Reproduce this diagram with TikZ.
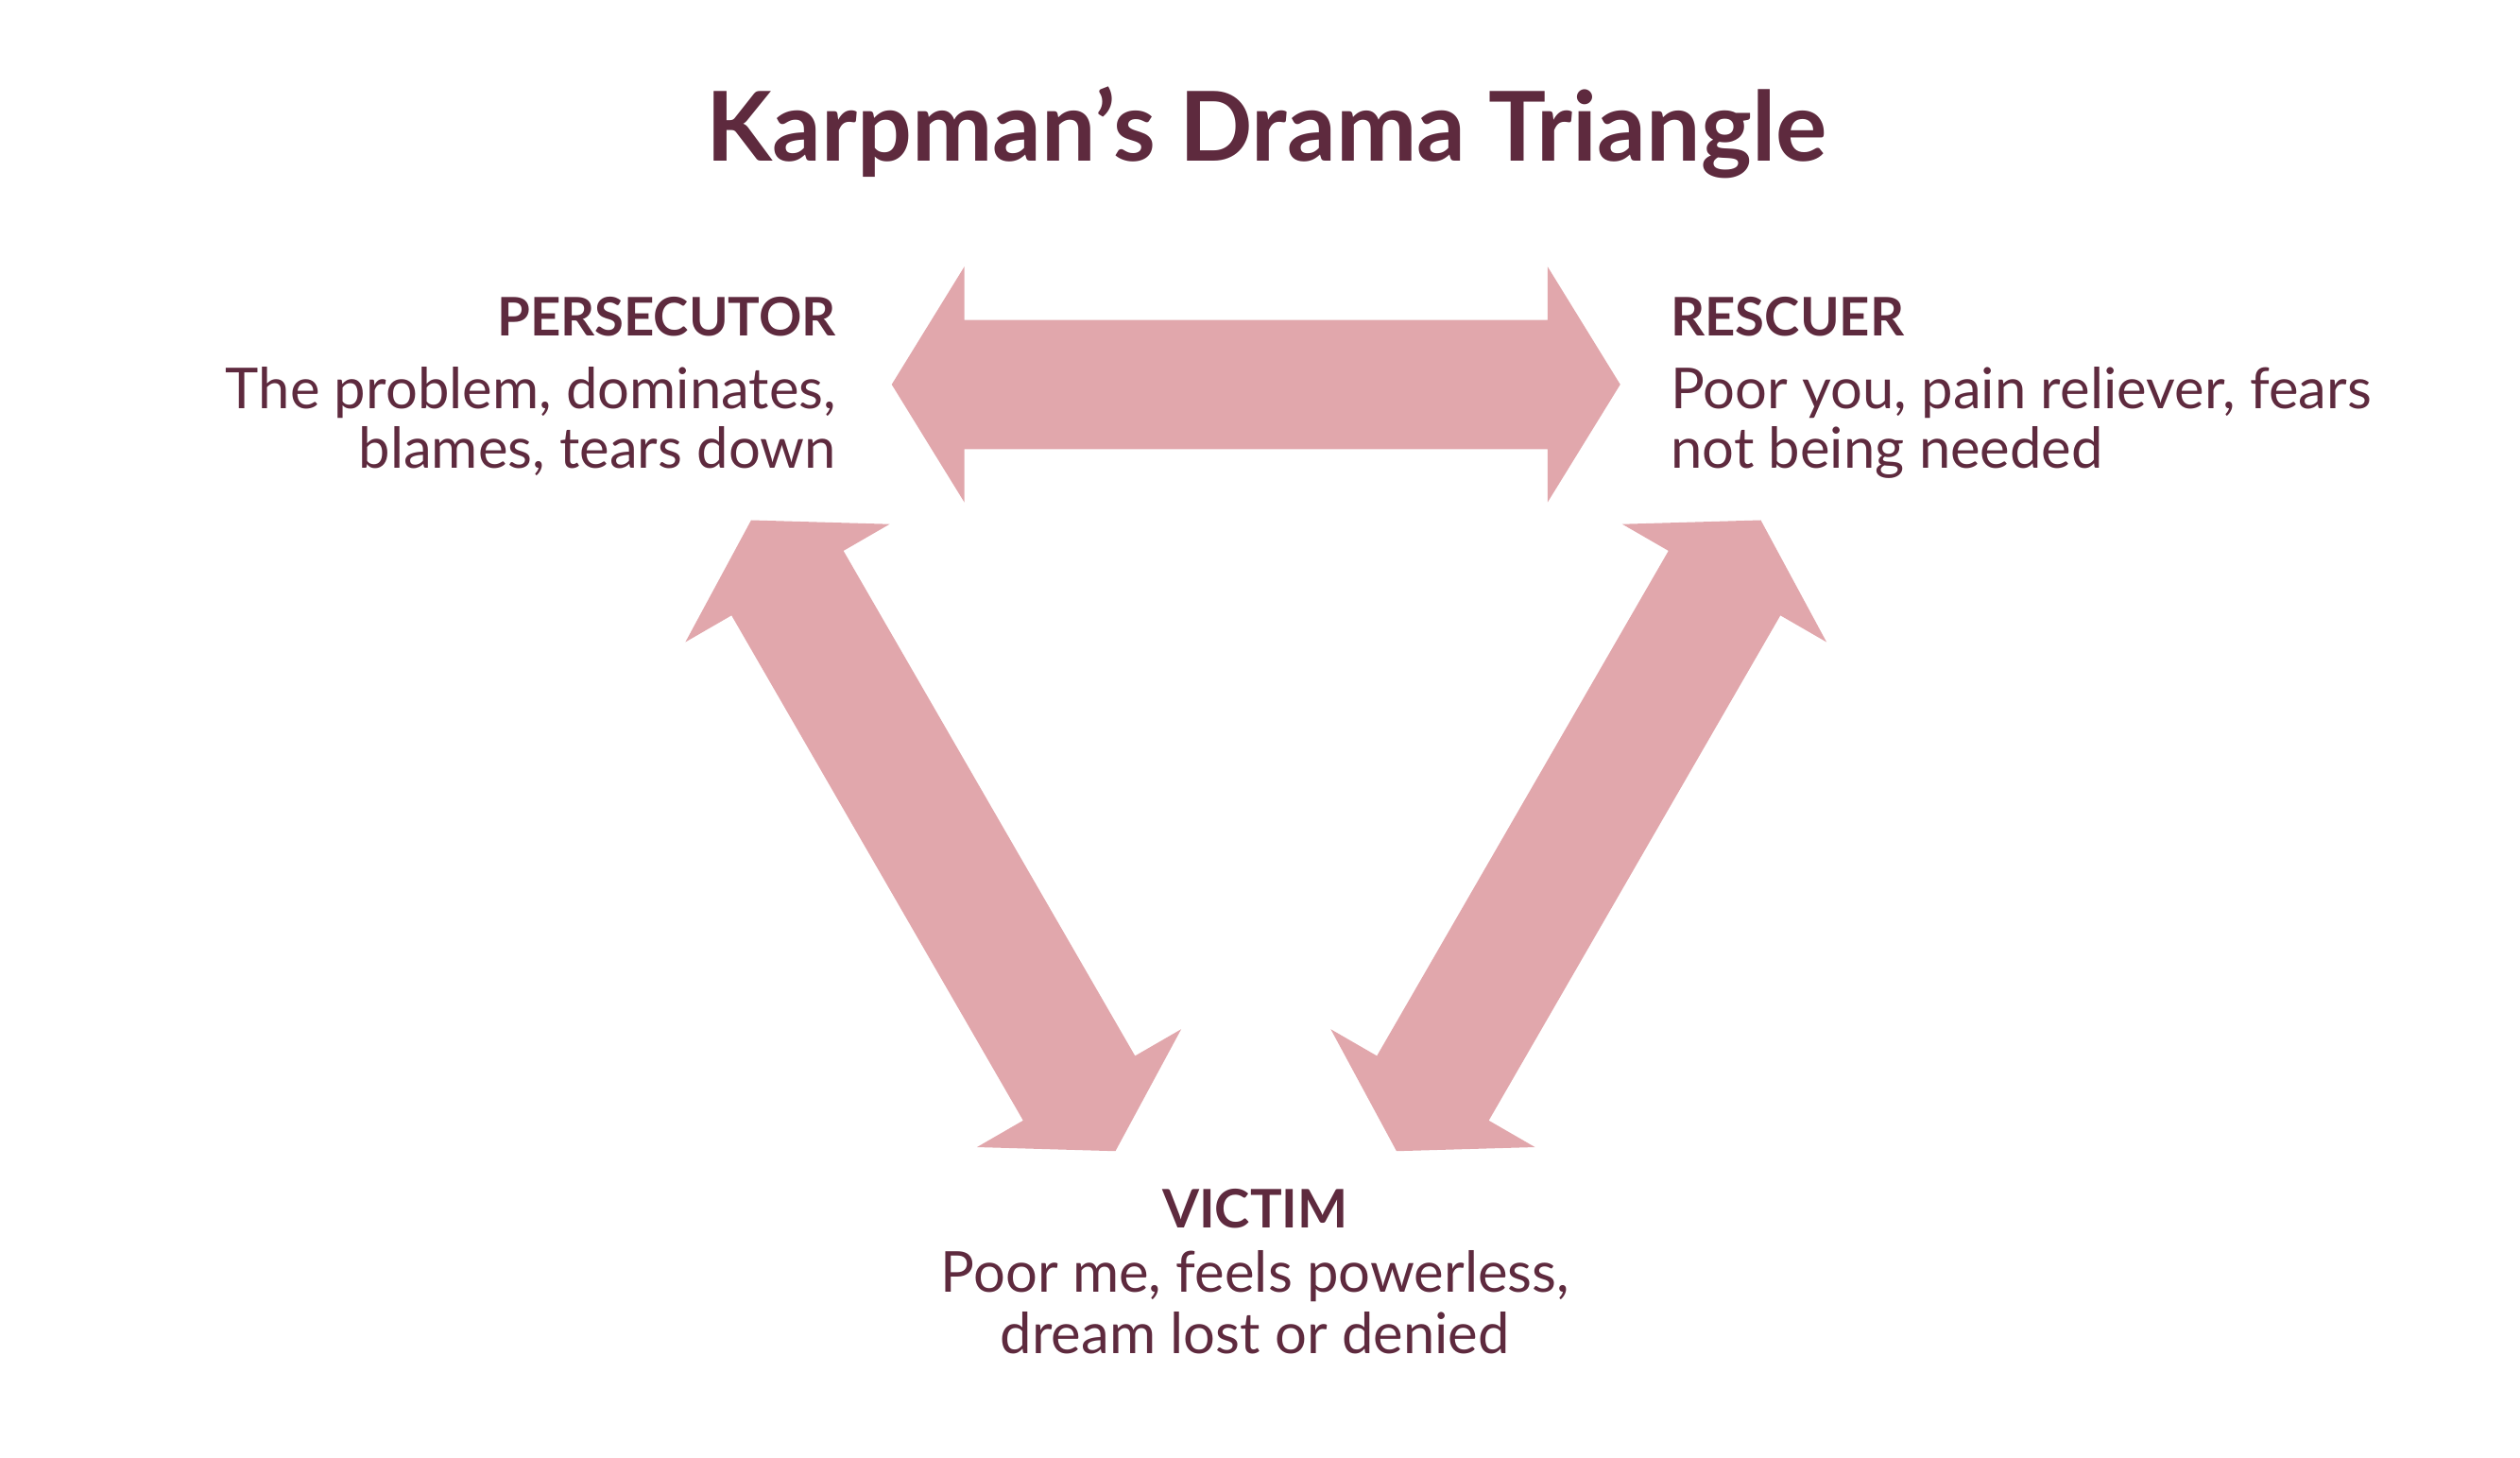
\documentclass[tikz,border=0pt]{standalone}
\usepackage{fontspec}
\setmainfont{Lato}
\definecolor{maroon}{HTML}{5E2A3E}
\definecolor{rosy}{HTML}{E1A7AC}
\newcommand{\dblarrow}{%
  \fill[rosy] (0,0) -- (45,73) -- (45,40) -- (406,40) -- (406,73) -- (451,0)
    -- (406,-73) -- (406,-40) -- (45,-40) -- (45,-73) -- cycle;}
\begin{document}
\begin{tikzpicture}[x=0.017096cm, y=-0.017096cm,
    role/.style={font=\bfseries\fontsize{16}{19}\selectfont, text=maroon, inner sep=0pt},
    desc/.style={font=\fontsize{17}{22}\selectfont, text=maroon, inner sep=0pt}]
  \useasboundingbox (0,0) rectangle (1560,902);
  \node[font=\bfseries\fontsize{29}{34}\selectfont, text=maroon, anchor=base] (title) at (784,100) {Karpman’s Drama Triangle};
  % arrows
  \coordinate (pr) at (552,238);
  \coordinate (pv) at (465,322);
  \coordinate (rv) at (1090,322);
  \begin{scope}[shift={(pr)}]\dblarrow\end{scope}
  \begin{scope}[shift={(pv)}, rotate=-60]\dblarrow\end{scope}
  \begin{scope}[shift={(rv)}, rotate=-120]\dblarrow\end{scope}
  % persecutor
  \node[role, anchor=base east] (pers) at (518,208) {PERSECUTOR};
  \node[desc, anchor=base east, align=right] (persd) at (518,253) {The problem, dominates,};
  \node[desc, anchor=base east] (persd2) at (518,290) {blames, tears down};
  % rescuer
  \node[role, anchor=base west] (resc) at (1034,208) {RESCUER};
  \node[desc, anchor=base west] (rescd) at (1034,253) {Poor you, pain reliever, fears};
  \node[desc, anchor=base west] (rescd2) at (1034,290) {not being needed};
  % victim
  \node[role, anchor=base] (vict) at (777,760) {VICTIM};
  \node[desc, anchor=base] (victd) at (777,800) {Poor me, feels powerless,};
  \node[desc, anchor=base] (victd2) at (777,838) {dream lost or denied};
\end{tikzpicture}
\end{document}
